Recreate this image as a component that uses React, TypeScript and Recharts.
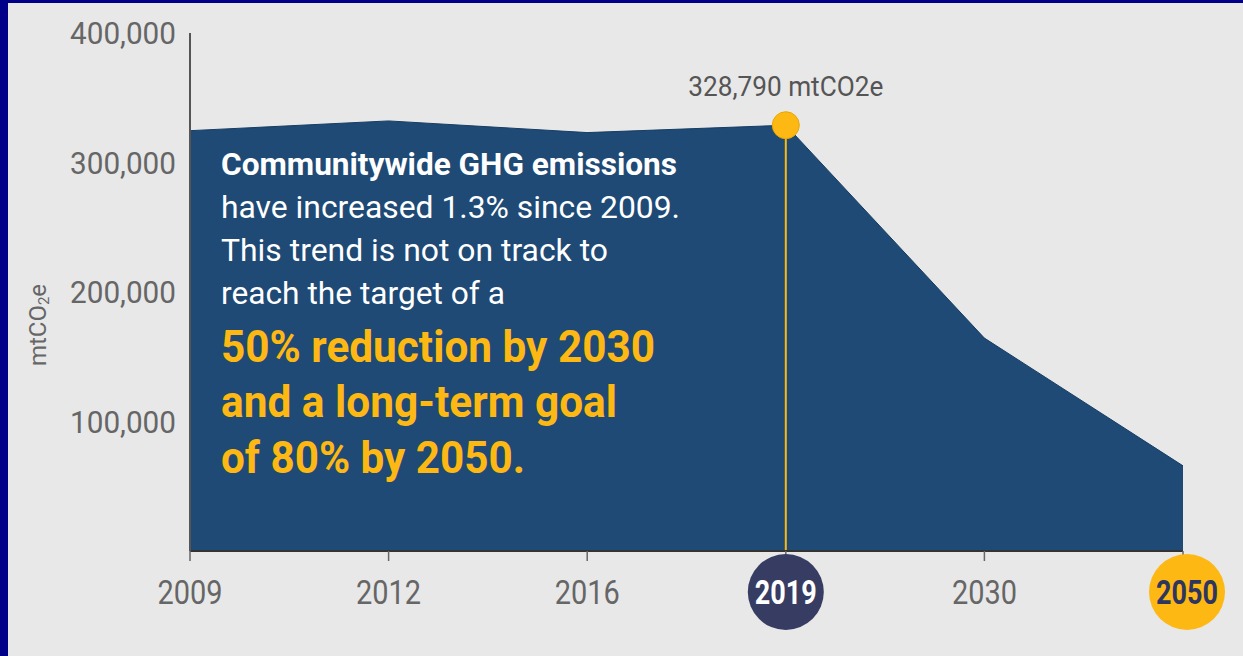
import React from 'react';
import {
  AreaChart,
  Area,
  XAxis,
  YAxis,
  ReferenceLine,
  ReferenceDot,
} from 'recharts';

const years = ['2009', '2012', '2016', '2019', '2030', '2050'];
const emissions = [324570, 332100, 323100, 328790, 164395, 65758];
const yTicks = [100000, 200000, 300000, 400000];
const highlightYear = '2019';
const goalYear = '2050';
const highlightValue = 328790;
const highlightLabel = '328,790 mtCO2e';

const introLines = [
  { text: 'Communitywide GHG emissions', bold: true, w: 456 },
  { text: 'have increased 1.3% since 2009.', bold: false, w: 459 },
  { text: 'This trend is not on track to', bold: false, w: 387 },
  { text: 'reach the target of a', bold: false, w: 284 },
];
const goalLines = [
  { text: '50% reduction by 2030', w: 434 },
  { text: 'and a long-term goal', w: 396 },
  { text: 'of 80% by 2050.', w: 304 },
];

const data = years.map((year, i) => ({ year, value: emissions[i] }));

const FONT = 'Roboto, "Open Sans", sans-serif';
const AREA_FILL = '#1e4a75';
const YELLOW = '#fdb813';
const NAVY_CIRCLE = '#373c62';
const GRAY_TEXT = '#666666';

const fmt = (v: number) => v.toLocaleString('en-US');

const YTick = (props: any) => {
  const { x, y, payload } = props;
  const label = fmt(payload.value);
  return (
    <text
      x={x}
      y={y}
      textAnchor="end"
      dominantBaseline="central"
      fontFamily={FONT}
      fontSize={32}
      fill={GRAY_TEXT}
      textLength={106}
      lengthAdjust="spacingAndGlyphs"
    >
      {label}
    </text>
  );
};

const XTick = (props: any) => {
  const { x, y, payload } = props;
  const v = String(payload.value);
  const cy = y + 31;
  if (v === highlightYear || v === goalYear) {
    const isGoal = v === goalYear;
    const cx = isGoal ? x + 4 : x;
    return (
      <g>
        <circle cx={cx} cy={cy} r={38} fill={isGoal ? YELLOW : NAVY_CIRCLE} />
        <text
          x={cx}
          y={cy}
          textAnchor="middle"
          dominantBaseline="central"
          fontFamily={FONT}
          fontWeight={700}
          fontSize={33}
          fill={isGoal ? '#2e3660' : '#ffffff'}
          textLength={62}
          lengthAdjust="spacingAndGlyphs"
        >
          {v}
        </text>
      </g>
    );
  }
  return (
    <text
      x={x}
      y={cy}
      textAnchor="middle"
      dominantBaseline="central"
      fontFamily={FONT}
      fontSize={34}
      fill={GRAY_TEXT}
      textLength={65}
      lengthAdjust="spacingAndGlyphs"
    >
      {v}
    </text>
  );
};

const DotLabel = (props: any) => {
  const vb = props.viewBox || {};
  const cx = (vb.x ?? 0) + (vb.width ?? 0) / 2;
  const top = vb.y ?? 0;
  return (
    <text
      x={cx}
      y={top - 16}
      textAnchor="middle"
      fontFamily={FONT}
      fontSize={28}
      fill="#555555"
      textLength={195}
      lengthAdjust="spacingAndGlyphs"
    >
      {highlightLabel}
    </text>
  );
};

const Overlay = () => {
  const x0 = 221;
  const introBase = [175, 218, 261, 304];
  const goalBase = [362, 417, 473];
  return (
    <svg
      width={1243}
      height={656}
      style={{ position: 'absolute', left: 0, top: 0, pointerEvents: 'none' }}
    >
      {introLines.map((l, i) => (
        <text
          key={l.text}
          x={x0}
          y={introBase[i]}
          fontFamily={FONT}
          fontSize={31}
          fontWeight={l.bold ? 700 : 400}
          fill="#ffffff"
          textLength={l.w}
          lengthAdjust="spacingAndGlyphs"
        >
          {l.text}
        </text>
      ))}
      {goalLines.map((l, i) => (
        <text
          key={l.text}
          x={x0}
          y={goalBase[i]}
          fontFamily={FONT}
          fontSize={44}
          fontWeight={700}
          fill={YELLOW}
          textLength={l.w}
          lengthAdjust="spacingAndGlyphs"
        >
          {l.text}
        </text>
      ))}
      <text
        x={46}
        y={325}
        transform="rotate(-90, 46, 325)"
        textAnchor="middle"
        fontFamily={FONT}
        fontSize={24}
        fill={GRAY_TEXT}
      >
        mtCO
        <tspan fontSize={15} dy={3}>2</tspan>
        <tspan dy={-3}>e</tspan>
      </text>
    </svg>
  );
};

export default function App() {
  return (
    <div
      style={{
        position: 'absolute',
        left: 0,
        top: 0,
        width: 1243,
        height: 656,
        background: '#000088',
        overflow: 'hidden',
      }}
    >
      <div
        style={{
          position: 'absolute',
          left: 8,
          top: 3,
          width: 1235,
          height: 653,
          background: '#e8e8e8',
        }}
      />
      <div style={{ position: 'absolute', left: 0, top: 0 }}>
        <AreaChart
          width={1243}
          height={656}
          data={data}
          margin={{ top: 33, right: 60, bottom: 0, left: 0 }}
        >
          <XAxis
            dataKey="year"
            interval={0}
            height={105}
            tickSize={10}
            tickMargin={0}
            tickLine={{ stroke: '#666666', strokeWidth: 1.5 }}
            axisLine={{ stroke: '#333333', strokeWidth: 2 }}
            tick={<XTick />}
          />
          <YAxis
            width={190}
            domain={[0, 400000]}
            ticks={yTicks}
            tickLine={false}
            tickSize={0}
            tickMargin={14}
            axisLine={{ stroke: '#555555', strokeWidth: 2 }}
            tick={<YTick />}
          />
          <Area
            type="linear"
            dataKey="value"
            fill={AREA_FILL}
            fillOpacity={1}
            stroke="#173d63"
            strokeWidth={1}
            isAnimationActive={false}
          />
          <ReferenceLine
            segment={[
              { x: highlightYear, y: 0 },
              { x: highlightYear, y: highlightValue },
            ]}
            stroke={YELLOW}
            strokeWidth={2}
          />
          <ReferenceDot
            x={highlightYear}
            y={highlightValue}
            r={13.5}
            fill={YELLOW}
            stroke="#e9a800"
            strokeWidth={1}
            label={<DotLabel />}
          />
        </AreaChart>
      </div>
      <Overlay />
    </div>
  );
}
